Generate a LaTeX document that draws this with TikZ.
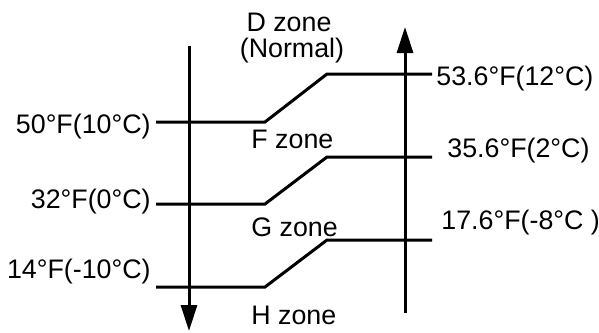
\documentclass[tikz,border=0pt]{standalone}
\usepackage{fontspec}
\setmainfont{Liberation Sans}
\usetikzlibrary{arrows.meta}
\begin{document}
\begin{tikzpicture}[x=0.5pt,y=-0.5pt,
  ln/.style={line width=1.5pt},
  ax/.style={line width=1.5pt,-{Triangle[length=13pt,width=8pt]}},
  lbl/.style={inner sep=0pt,font=\fontsize{13.4}{15.5}\selectfont},
]
\useasboundingbox (0,0) rectangle (599,332);
% axes
\coordinate (la0) at (189,46);
\coordinate (la1) at (189,331);
\coordinate (ra0) at (405,313);
\coordinate (ra1) at (405,27);
\draw[ax] (la0) -- (la1);
\draw[ax] (ra0) -- (ra1);
% threshold lines
\coordinate (a0) at (156,122); \coordinate (a1) at (265,122);
\coordinate (a2) at (327,74);  \coordinate (a3) at (432,74);
\coordinate (b0) at (156,204); \coordinate (b1) at (265,204);
\coordinate (b2) at (327,157); \coordinate (b3) at (432,157);
\coordinate (c0) at (156,287); \coordinate (c1) at (265,287);
\coordinate (c2) at (327,240); \coordinate (c3) at (432,240);
\draw[ln] (a0) -- (a1) -- (a2) -- (a3);
\draw[ln] (b0) -- (b1) -- (b2) -- (b3);
\draw[ln] (c0) -- (c1) -- (c2) -- (c3);
% left labels
\node[lbl,anchor=base east] (l1) at (151,133) {50°F(10°C)};
\node[lbl,anchor=base east] (l2) at (151,208) {32°F(0°C)};
\node[lbl,anchor=base east] (l3) at (151,278) {14°F(-10°C)};
% right labels
\node[lbl,anchor=base west] (r1) at (436,85) {53.6°F(12°C)};
\node[lbl,anchor=base west] (r2) at (447,157) {35.6°F(2°C)};
\node[lbl,anchor=base west] (r3) at (441,229) {17.6°F(-8°C )};
% zone labels
\node[lbl,anchor=base] (dz) at (289,32) {D zone};
\node[lbl,anchor=base] (dn) at (292,57) {(Normal)};
\node[lbl,anchor=base west] (fz) at (251,148) {F zone};
\node[lbl,anchor=base west] (gz) at (251,236) {G zone};
\node[lbl,anchor=base west] (hz) at (251,324) {H zone};
\end{tikzpicture}
\end{document}
